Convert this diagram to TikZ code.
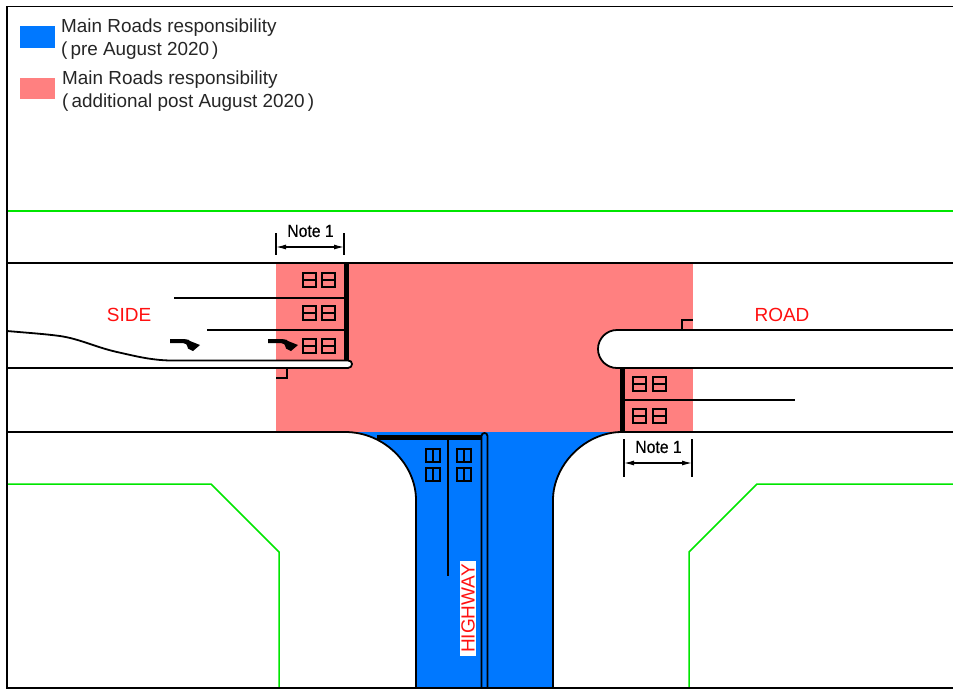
\documentclass[tikz,border=0pt]{standalone}
\usepackage{fontspec}
\setmainfont{Liberation Sans}
\newfontfamily\notefont[FakeBold=0.5]{Liberation Sans}
\definecolor{mrblue}{HTML}{0078FF}
\definecolor{mrred}{HTML}{FF8080}
\definecolor{reserve}{HTML}{00E600}
\definecolor{lbl}{HTML}{FF1010}
\usetikzlibrary{arrows.meta}
\tikzset{
  road/.style={draw=black,line width=1.8pt},
  thin line/.style={draw=black,line width=1.7pt},
  stopline/.style={draw=black,line width=4.8pt},
  boundary/.style={draw=reserve,line width=1.5pt},
  legendtext/.style={anchor=west,font=\fontsize{18.9}{20}\selectfont,text=black!85,inner sep=0pt},
  roadlabel/.style={font=\fontsize{19}{20}\selectfont,text=lbl,inner sep=0pt},
  notelabel/.style={font=\fontsize{17.5}{18}\notefont,text=black,inner sep=0pt,xscale=.9},
  dim/.style={draw=black,line width=1.2pt,{Latex[length=10pt,width=5pt]}-{Latex[length=10pt,width=5pt]}},
  ext/.style={draw=black,line width=1.4pt},
  lamp/.style={draw=black,line width=1.7pt},
}
\newcommand{\headH}[2]{\draw[lamp] (#1,#2) rectangle ++(13,14); \draw[lamp] (#1,#2+7) -- ++(13,0);}
\newcommand{\headV}[2]{\draw[lamp] (#1,#2) rectangle ++(14,13); \draw[lamp] (#1+7,#2) -- ++(0,13);}
\newcommand{\turnarrow}[2]{\begin{scope}[shift={(#1,#2)}]
  \fill[black] (0,-1.8) -- (15,-1.8) .. controls (18,-1.8) and (19,-1) .. (20,0) -- (30,4) -- (23,10) -- (18,7.5) .. controls (17,3.5) and (16,2) .. (13,2) -- (0,2) -- cycle;
\end{scope}}
\begin{document}
\begin{tikzpicture}[x=1pt,y=-1pt]
\useasboundingbox (0,0) rectangle (953,689);
\fill[white] (0,0) rectangle (953,689);
% legend
\fill[mrblue] (20,26) rectangle (55,48);
\fill[mrred] (20,78) rectangle (55,99);
\node[legendtext] (l1) at (61,27.5) {Main Roads responsibility};
\node[legendtext] (l2) at (61,50.5) {(\hspace{.16em}pre August 2020\hspace{.16em})};
\node[legendtext] (l3) at (62,79.5) {Main Roads responsibility};
\node[legendtext] (l4) at (62,102.5) {(\hspace{.16em}additional post August 2020\hspace{.16em})};
% coloured areas
\fill[mrred] (276,263) rectangle (693,432);
\fill[mrblue] (345,432) .. controls (385,432) and (416,465) .. (416,500) -- (416,688) -- (553,688) -- (553,500) .. controls (553,465) and (585,432) .. (622,432) -- cycle;
% medians (white)
\fill[white] (7,331) .. controls (30,333) and (45,334) .. (60,336) .. controls (80,339) and (95,347) .. (117,352) .. controls (135,356) and (150,360) .. (170,360.5) -- (348,360.5) .. controls (350.5,360.5) and (352,362) .. (352,364) .. controls (352,366) and (350.5,368) .. (348,368) -- (7,368) -- cycle;
\fill[white] (953,330) -- (617,330) .. controls (606.5,330) and (598,338.5) .. (598,349) .. controls (598,359.5) and (606.5,368) .. (617,368) -- (953,368) -- cycle;
% reservation boundaries
\draw[boundary] (7,211) -- (953,211);
\draw[boundary] (7,484) -- (211,484) -- (279,552) -- (279,688);
\draw[boundary] (953,484) -- (757,484) -- (689,552) -- (689,688);
% road edges
\draw[road] (7,263) -- (953,263);
\draw[road] (7,432) -- (345,432) .. controls (385,432) and (416,465) .. (416,500) -- (416,688);
\draw[road] (953,432) -- (622,432) .. controls (585,432) and (553,465) .. (553,500) -- (553,688);
\draw[road] (7,331) .. controls (30,333) and (45,334) .. (60,336) .. controls (80,339) and (95,347) .. (117,352) .. controls (135,356) and (150,360) .. (170,360.5) -- (348,360.5) .. controls (350.5,360.5) and (352,362) .. (352,364) .. controls (352,366) and (350.5,368) .. (348,368) -- (7,368);
\draw[road] (953,330) -- (617,330) .. controls (606.5,330) and (598,338.5) .. (598,349) .. controls (598,359.5) and (606.5,368) .. (617,368) -- (953,368);
% frame
\draw[road] (953,6.5) -- (7,6.5) -- (7,688) -- (953,688);
% stop lines and lane lines
\draw[stopline] (346.5,263) -- (346.5,360);
\draw[stopline] (622.7,368) -- (622.7,432);
\draw[stopline] (377,437.5) -- (481,437.5);
\draw[thin line] (174,298) -- (345,298);
\draw[thin line] (207,330) -- (345,330);
\draw[thin line] (622,400) -- (795,400);
\draw[thin line] (448,437) -- (448,576);
% highway centre median
\draw[road] (481.5,688) -- (481.5,436) .. controls (481.5,434) and (483,433) .. (484.5,433) .. controls (486,433) and (487.5,434) .. (487.5,436) -- (487.5,688);
% signal heads
\foreach \y in {273,306,339} {\headH{303}{\y}\headH{322}{\y}}
\foreach \y in {377,409} {\headH{633}{\y}\headH{653}{\y}}
\foreach \y in {449,468} {\headV{426}{\y}\headV{457}{\y}}
% turn arrows
\turnarrow{170}{341}
\turnarrow{268}{341}
% ticks
\draw[ext] (276,378) -- (287,378) -- (287,368);
\draw[ext] (682,330) -- (682,320) -- (693,320);
% dimensions
\coordinate (na) at (276,247); \coordinate (nb) at (344,247);
\coordinate (ma) at (624,463); \coordinate (mb) at (692,463);
\draw[ext] (276,233) -- (276,255);
\draw[ext] (344,233) -- (344,255);
\draw[dim] (na) -- (nb);
\node[notelabel] (n1) at (310.5,231) {Note 1};
\draw[ext] (624,439) -- (624,477);
\draw[ext] (692,439) -- (692,477);
\draw[dim] (ma) -- (mb);
\node[notelabel] (n2) at (658.5,447) {Note 1};
% road names
\node[roadlabel] (side) at (129,315) {SIDE};
\node[roadlabel] (roadn) at (782,315) {ROAD};
\node[roadlabel,fill=white,rotate=90,inner xsep=3.5pt,inner ysep=1.5pt] (hw) at (468,608.5) {HIGHWAY};
\end{tikzpicture}
\end{document}
